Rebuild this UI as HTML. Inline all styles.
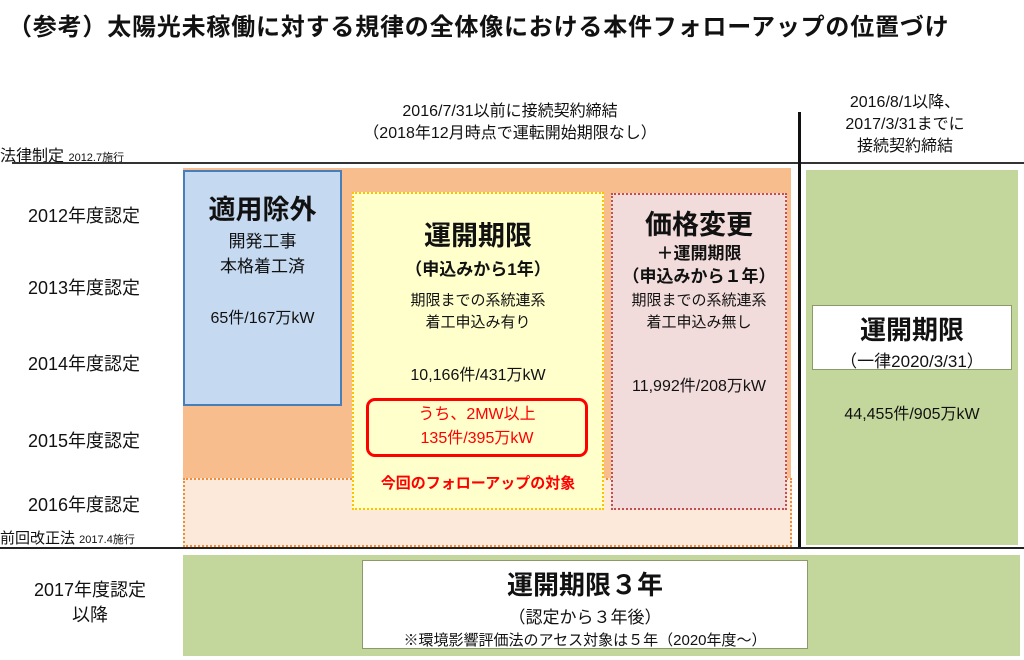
<!DOCTYPE html>
<html><head><meta charset="utf-8"><style>
body{margin:0;width:1024px;height:660px;background:#fff;position:relative;overflow:hidden;font-family:"Liberation Sans","Noto Sans CJK JP",sans-serif;color:#111}
.a{position:absolute}
.c{text-align:center}
.b{font-weight:bold}
</style></head><body>
<div class="a b" style="left:8px;top:7px;font-size:24px;letter-spacing:0.8px">（参考）太陽光未稼働に対する規律の全体像における本件フォローアップの位置づけ</div>
<div class="a c" style="left:330px;top:101px;width:360px;font-size:16px;line-height:22px">2016/7/31以前に接続契約締結<br>（2018年12月時点で運転開始期限なし）</div>
<div class="a c" style="left:800px;top:92px;width:210px;font-size:16px;line-height:22px">2016/8/1以降、<br>2017/3/31までに<br>接続契約締結</div>
<div class="a" style="left:0;top:142px;font-size:16px">法律制定 <span style="font-size:11px">2012.7施行</span></div>
<div class="a" style="left:12px;top:162px;width:1012px;height:2px;background:#333"></div>
<div class="a" style="left:798px;top:112px;width:3px;height:437px;background:#111"></div>

<div class="a" style="left:183px;top:168px;width:608px;height:311px;background:#f8bd8c"></div>
<div class="a" style="left:183px;top:478px;width:605px;height:65px;background:#fde9da;border:2px dotted #f08c3a"></div>
<div class="a c" style="left:183px;top:170px;width:155px;height:232px;background:#c5d9f1;border:2px solid #4a7ebb">
 <div class="b" style="font-size:27px;margin-top:16px">適用除外</div>
 <div style="font-size:17px;line-height:25px;margin-top:2px">開発工事<br>本格着工済</div>
 <div style="font-size:16px;margin-top:25px">65件/167万kW</div>
</div>
<div class="a c" style="left:352px;top:192px;width:248px;height:314px;background:#ffffcc;border:2px dotted #ffc000">
 <div class="b" style="font-size:27px;margin-top:20px">運開期限</div>
 <div class="b" style="font-size:17px;margin-top:2px">（申込みから1年）</div>
 <div style="font-size:15px;line-height:22px;margin-top:10px">期限までの系統連系<br>着工申込み有り</div>
 <div style="font-size:16px;margin-top:27px">10,166件/431万kW</div>
</div>
<div class="a c" style="left:366px;top:398px;width:216px;height:51px;border:3px solid #ff0000;border-radius:9px;color:#ff0000;font-size:16px;line-height:24px;padding-top:2px">うち、2MW以上<br>135件/395万kW</div>
<div class="a c b" style="left:354px;top:472px;width:248px;color:#ff0000;font-size:15px">今回のフォローアップの対象</div>
<div class="a c" style="left:611px;top:193px;width:172px;height:313px;background:#f2dcdb;border:2px dotted #c0504d">
 <div class="b" style="font-size:27px;margin-top:8px">価格変更</div>
 <div class="b" style="font-size:17px;line-height:23px">＋運開期限<br>（申込みから１年）</div>
 <div style="font-size:15px;line-height:22px;margin-top:2px">期限までの系統連系<br>着工申込み無し</div>
 <div style="font-size:16px;margin-top:38px">11,992件/208万kW</div>
</div>
<div class="a c" style="left:806px;top:170px;width:212px;height:375px;background:#c3d69b">
 <div class="a c" style="left:6px;top:135px;width:198px;height:63px;background:#fff;border:1px solid #8a9a6a">
  <div class="b" style="font-size:26px;margin-top:4px">運開期限</div>
  <div style="font-size:17px">（一律2020/3/31）</div>
 </div>
 <div class="a c" style="left:0;top:230px;width:212px;font-size:16px">44,455件/905万kW</div>
</div>

<div class="a" style="left:0;top:547px;width:1024px;height:2px;background:#222"></div>
<div class="a" style="left:183px;top:555px;width:837px;height:101px;background:#c3d69b"></div>
<div class="a c" style="left:362px;top:560px;width:444px;height:87px;background:#fff;border:1px solid #8a9a6a">
 <div class="b" style="font-size:26px;margin-top:4px">運開期限３年</div>
 <div style="font-size:17px;margin-top:1px">（認定から３年後）</div>
 <div style="font-size:15px;margin-top:1px">※環境影響評価法のアセス対象は５年（2020年度～）</div>
</div>

<div class="a" style="left:28px;top:202px;font-size:18px">2012年度認定</div>
<div class="a" style="left:28px;top:274px;font-size:18px">2013年度認定</div>
<div class="a" style="left:28px;top:350px;font-size:18px">2014年度認定</div>
<div class="a" style="left:28px;top:427px;font-size:18px">2015年度認定</div>
<div class="a" style="left:28px;top:491px;font-size:18px">2016年度認定</div>
<div class="a" style="left:0;top:527px;font-size:15px">前回改正法 <span style="font-size:11px">2017.4施行</span></div>
<div class="a c" style="left:20px;top:578px;width:140px;font-size:18px;line-height:25px">2017年度認定<br>以降</div>
</body></html>
